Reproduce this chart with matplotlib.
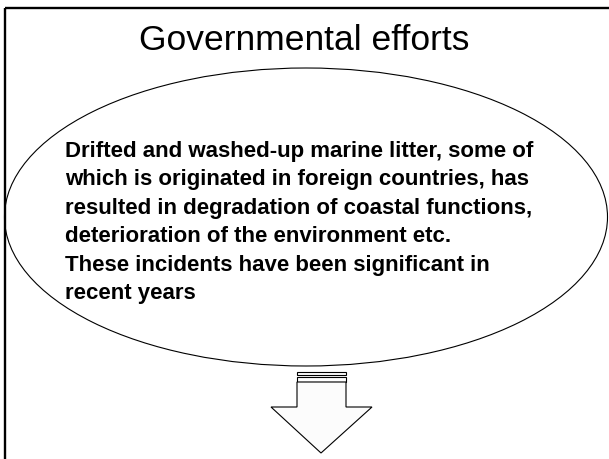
import matplotlib
matplotlib.use('Agg')
import matplotlib.pyplot as plt
from matplotlib.patches import Ellipse, Rectangle, Polygon

plt.rcParams['font.family'] = ['Liberation Sans', 'DejaVu Sans']

# 文字内容
title = 'Governmental efforts'
body_lines = [
    'Drifted and washed-up marine litter, some of',
    'which is originated in foreign countries, has',
    'resulted in degradation of coastal functions,',
    'deterioration of the environment etc.',
    'These incidents have been significant in',
    'recent years',
]

W, H = 609, 459
fig = plt.figure(figsize=(W / 100, H / 100), dpi=100)
ax = fig.add_axes([0, 0, 1, 1])
ax.set_xlim(0, W)
ax.set_ylim(H, 0)
ax.axis('off')

# 外框(只露出上边和左边)
ax.add_patch(Rectangle((4.5, 8), 700, 600, fill=False, lw=1.7, ec='black'))

# 标题
ax.text(304, 40, title, ha='center', va='center', fontsize=25.5)

# 椭圆
ax.add_patch(Ellipse((306, 217), 603, 298, fill=False, lw=0.8, ec='black'))

# 正文
y0, dy = 151, 28.6
for i, line in enumerate(body_lines):
    ax.text(65, y0 + i * dy, line, ha='left', va='center',
            fontsize=16, fontweight='bold')

# 向下的箭头
ax.add_patch(Rectangle((297, 372), 49, 2.5, fc='white', ec='black', lw=0.8))
ax.add_patch(Rectangle((297, 377), 49, 5, fc='white', ec='black', lw=0.8))
arrow = [(297, 382), (346, 382), (346, 407), (372, 407), (321, 453),
         (271, 407), (297, 407)]
ax.add_patch(Polygon(arrow, closed=True, fc='#fcfcfc', ec='black', lw=0.8))

fig.savefig('out.png', dpi=100)
